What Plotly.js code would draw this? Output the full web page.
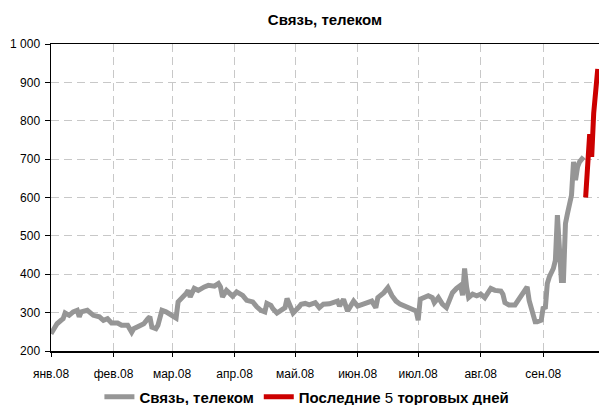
<!DOCTYPE html>
<html>
<head>
<meta charset="utf-8">
<script src="https://cdn.plot.ly/plotly-3.0.1.min.js"></script>
<style>html,body{margin:0;padding:0;background:#fff;}#chart{width:599px;height:405px;}</style>
</head>
<body>
<div id="chart"></div>
<script>
// Series: "Связь, телеком" (grey)
const greyDates = [
 '2008-01-01','2008-01-02','2008-01-04','2008-01-06','2008-01-07','2008-01-08','2008-01-10','2008-01-12','2008-01-14','2008-01-15',
 '2008-01-16','2008-01-19','2008-01-20','2008-01-22','2008-01-25','2008-01-27','2008-01-29','2008-01-31','2008-02-03','2008-02-05',
 '2008-02-08','2008-02-10','2008-02-11','2008-02-13','2008-02-16','2008-02-18','2008-02-19','2008-02-20','2008-02-22','2008-02-23',
 '2008-02-25','2008-02-27','2008-02-29','2008-03-03','2008-03-04','2008-03-06','2008-03-08','2008-03-09','2008-03-10','2008-03-12',
 '2008-03-14','2008-03-17','2008-03-19','2008-03-22','2008-03-24','2008-03-25','2008-03-26','2008-03-28','2008-03-31','2008-04-02',
 '2008-04-05','2008-04-07','2008-04-10','2008-04-12','2008-04-14','2008-04-16','2008-04-17','2008-04-19','2008-04-20','2008-04-22',
 '2008-04-24','2008-04-26','2008-04-27','2008-04-29','2008-04-30','2008-05-03','2008-05-04','2008-05-06','2008-05-08','2008-05-11',
 '2008-05-13','2008-05-15','2008-05-18','2008-05-22','2008-05-23','2008-05-25','2008-05-27','2008-05-28','2008-05-30','2008-06-01',
 '2008-06-05','2008-06-08','2008-06-10','2008-06-11','2008-06-14','2008-06-16','2008-06-18','2008-06-20','2008-06-22','2008-06-25',
 '2008-06-28','2008-06-30','2008-07-01','2008-07-02','2008-07-04','2008-07-06','2008-07-08','2008-07-09','2008-07-11','2008-07-13',
 '2008-07-15','2008-07-17','2008-07-18','2008-07-20','2008-07-22','2008-07-23','2008-07-24','2008-07-25','2008-07-26','2008-07-28',
 '2008-07-30','2008-08-01','2008-08-03','2008-08-06','2008-08-08','2008-08-11','2008-08-12','2008-08-13','2008-08-15','2008-08-18',
 '2008-08-20','2008-08-21','2008-08-23','2008-08-24','2008-08-25','2008-08-27','2008-08-28','2008-08-29','2008-08-31','2008-09-01',
 '2008-09-02','2008-09-03','2008-09-04','2008-09-06','2008-09-07','2008-09-08','2008-09-09','2008-09-10','2008-09-11','2008-09-12',
 '2008-09-13','2008-09-14','2008-09-15','2008-09-16','2008-09-17','2008-09-18','2008-09-19','2008-09-21'
];
const greyValues = [
 245,256,271,280,284,299,293,302,306,289,
 302,306,302,293,289,280,284,273,273,267,
 267,249,258,262,271,284,289,262,258,267,
 306,302,296,286,328,337,350,358,341,363,
 358,367,371,369,376,367,341,358,343,354,
 345,332,328,315,306,302,324,319,310,299,
 306,313,337,315,299,315,322,324,320,326,
 313,322,323,330,317,335,304,313,330,317,
 326,330,313,339,352,365,344,330,322,317,
 309,304,280,335,339,344,339,326,339,322,
 313,339,352,363,371,345,415,367,339,348,
 344,348,339,363,358,356,348,326,320,320,
 335,344,363,367,332,289,276,276,280,315,
 310,376,393,415,436,554,489,384,384,532,
 558,580,606,693,645,680,693,706
];
// Series: "Последние 5 торговых дней" (red)
const redDates = ['2008-09-22','2008-09-24','2008-09-25','2008-09-26','2008-09-28'];
const redValues = [600, 765, 706, 820, 935];

// Axis labels
const monthTicks = ['2008-01-01','2008-02-01','2008-03-01','2008-04-01','2008-05-01','2008-06-01','2008-07-01','2008-08-01','2008-09-01'];
const monthLabels = ['янв.08','фев.08','мар.08','апр.08','май.08','июн.08','июл.08','авг.08','сен.08'];
const yTicks = [200,300,400,500,600,700,800,900,1000];
const yLabels = ['200','300','400','500','600','700','800','900','1 000'];

const FONT = 'Liberation Sans, Arial, sans-serif';

const traces = [
  {x: greyDates, y: greyValues, type: 'scatter', mode: 'lines', name: '<b>Связь, телеком</b>',
   line: {color: '#969696', width: 5}},
  {x: redDates, y: redValues, type: 'scatter', mode: 'lines', name: '<b>Последние</b> 5 <b>торговых дней</b>',
   line: {color: '#cc0000', width: 5}}
];

const layout = {
  width: 599, height: 405,
  margin: {l: 51, r: 0, t: 44, b: 54, pad: 0, autoexpand: false},
  paper_bgcolor: '#ffffff', plot_bgcolor: '#ffffff',
  font: {family: FONT, size: 12, color: '#000'},
  title: {text: '<b>Связь, телеком</b>', font: {family: FONT, size: 15, color: '#000'},
          x: 0.5, xref: 'paper', y: 1 - 20/405, yref: 'container', yanchor: 'middle'},
  showlegend: true,
  legend: {orientation: 'h', x: 0.467, xanchor: 'center', y: 0.02, yref: 'container', yanchor: 'middle',
           font: {family: FONT, size: 15, color: '#000'}, itemgap: 2, bgcolor: 'rgba(0,0,0,0)'},
  xaxis: {type: 'date', range: ['2008-01-01', '2008-09-28 15:00'],
          tickvals: monthTicks, ticktext: monthLabels, automargin: false,
          showgrid: true, gridcolor: '#c8c8c8', gridwidth: 1, griddash: '8px,5px',
          showline: true, linecolor: '#000', linewidth: 1.5, mirror: true,
          ticks: 'outside', ticklen: 4, tickcolor: '#000', ticklabelstandoff: 7,
          tickfont: {family: FONT, size: 12, color: '#000'}, zeroline: false, fixedrange: true},
  yaxis: {range: [200, 1000], tickvals: yTicks, ticktext: yLabels, automargin: false,
          showgrid: true, gridcolor: '#c8c8c8', gridwidth: 1, griddash: '8px,5px',
          showline: true, linecolor: '#000', linewidth: 1.5,
          ticks: 'outside', ticklen: 5, tickcolor: '#000', ticklabelstandoff: 2,
          tickfont: {family: FONT, size: 12, color: '#000'}, zeroline: false, fixedrange: true}
};

Plotly.newPlot('chart', traces, layout, {displayModeBar: false, staticPlot: true});
</script>
</body>
</html>
